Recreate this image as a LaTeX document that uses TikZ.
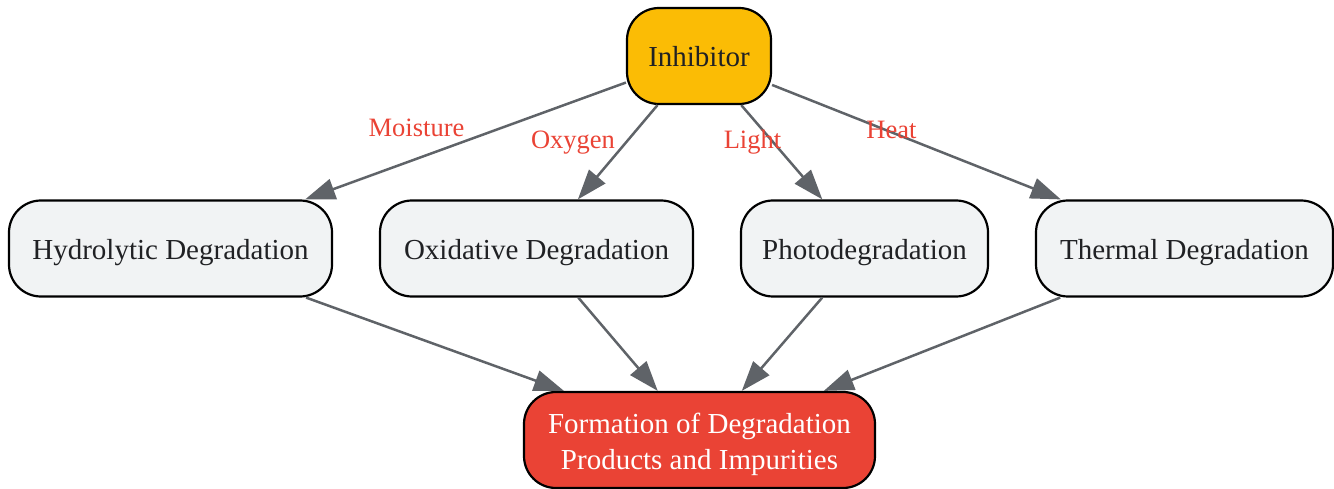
\documentclass[tikz,border=0pt]{standalone}
\usepackage{fontspec}
\setmainfont{Liberation Serif}
\usetikzlibrary{arrows.meta}
\definecolor{gyellow}{HTML}{FBBC05}
\definecolor{gred}{HTML}{EA4335}
\definecolor{ggray}{HTML}{F1F3F4}
\definecolor{gtext}{HTML}{202124}
\definecolor{gedge}{HTML}{5F6368}
\tikzset{
  box/.style={draw=black, line width=2.2pt, rounded corners=32pt, minimum height=96pt,
    inner sep=0pt, text=gtext, font=\fontsize{29}{36}\selectfont,
    text height=25pt, text depth=3pt},
  conn/.style={draw=gedge, line width=2.5pt, -{Triangle[length=30pt,width=21pt]}},
  elabel/.style={text=gred, font=\fontsize{26.5}{30}\selectfont, anchor=base, inner sep=0pt}
}
\begin{document}
\begin{tikzpicture}[x=1pt,y=-1pt]
\useasboundingbox (0,0) rectangle (1334,489);
\node[box, fill=gyellow, minimum width=144pt] (inh) at (699,56) {Inhibitor};
\node[box, fill=ggray, minimum width=323pt] (hyd) at (170.5,248.5) {Hydrolytic Degradation};
\node[box, fill=ggray, minimum width=313pt] (oxi) at (536.5,248.5) {Oxidative Degradation};
\node[box, fill=ggray, minimum width=247pt] (pho) at (864.5,248.5) {Photodegradation};
\node[box, fill=ggray, minimum width=297pt] (the) at (1184.5,248.5) {Thermal Degradation};
\node[box, fill=gred, minimum width=351pt] (for) at (699.5,440) {};
\node[text=white, font=\fontsize{29}{36}\selectfont, align=center, inner sep=0pt, yshift=-4pt] (fortext) at (for.center) {Formation of Degradation\\Products and Impurities};
\draw[conn] (inh) -- (hyd);
\draw[conn] (inh) -- (oxi);
\draw[conn] (inh) -- (pho);
\draw[conn] (inh) -- (the);
\draw[conn] (hyd) -- (for);
\draw[conn] (oxi) -- (for);
\draw[conn] (pho) -- (for);
\draw[conn] (the) -- (for);
\node[elabel] (lm) at (416.5,137) {Moisture};
\node[elabel] (lo) at (573,149) {Oxygen};
\node[elabel] (ll) at (752.5,149) {Light};
\node[elabel] (lh) at (891.5,139) {Heat};
\end{tikzpicture}
\end{document}
